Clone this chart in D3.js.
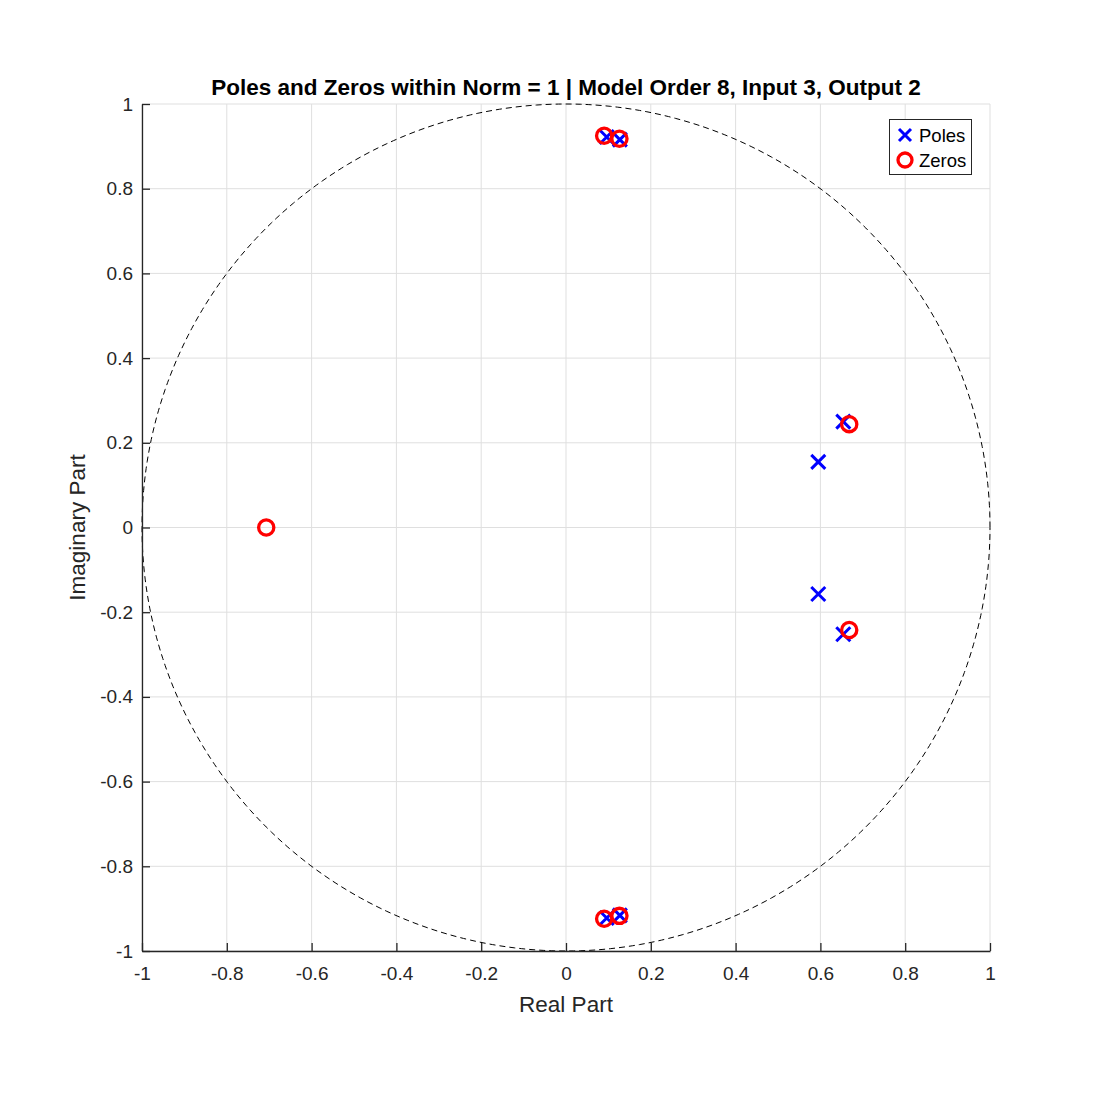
<!DOCTYPE html>
<html><head><meta charset="utf-8">
<script src="https://cdn.jsdelivr.net/npm/d3@7"></script>
<style>body{margin:0;background:#fff}svg{display:block}text{font-family:"Liberation Sans",Arial,sans-serif}</style>
</head><body>
<script>
const poleRe = [0.096, 0.096, 0.127, 0.127, 0.654, 0.654, 0.595, 0.595];
const poleIm = [0.922, -0.922, 0.916, -0.916, 0.250, -0.252, 0.155, -0.157];
const zeroRe = [0.090, 0.090, 0.126, 0.126, 0.668, 0.668, -0.707];
const zeroIm = [0.925, -0.924, 0.918, -0.917, 0.244, -0.242, 0.0];
const tickVals = [-1, -0.8, -0.6, -0.4, -0.2, 0, 0.2, 0.4, 0.6, 0.8, 1];
const titleText = "Poles and Zeros within Norm = 1 | Model Order 8, Input 3, Output 2";
const legendLabels = ["Poles", "Zeros"];

const W = 1094, H = 1093;
const L = 142, R = 990, T = 104, B = 951;
const svg = d3.select("body").append("svg").attr("width", W).attr("height", H);
const x = d3.scaleLinear().domain([-1, 1]).range([L, R]);
const y = d3.scaleLinear().domain([-1, 1]).range([B, T]);
const fmt = v => v === 0 ? "0" : String(+v.toFixed(1));

// grid
const g = svg.append("g");
g.selectAll(".gx").data(tickVals).join("line")
  .attr("x1", d => x(d)).attr("x2", d => x(d)).attr("y1", T).attr("y2", B)
  .attr("stroke", "#dfdfdf").attr("stroke-width", 1);
g.selectAll(".gy").data(tickVals).join("line")
  .attr("y1", d => y(d)).attr("y2", d => y(d)).attr("x1", L).attr("x2", R)
  .attr("stroke", "#dfdfdf").attr("stroke-width", 1);

// unit circle
const circ = d3.range(0, 361).map(a => [Math.cos(a * Math.PI / 180), Math.sin(a * Math.PI / 180)]);
svg.append("path").datum(circ)
  .attr("d", d3.line().x(d => x(d[0])).y(d => y(d[1])))
  .attr("fill", "none").attr("stroke", "#000").attr("stroke-width", 1)
  .attr("stroke-dasharray", "6,4");

// axes
const xAxis = d3.axisBottom(x).tickValues(tickVals).tickFormat(fmt).tickSizeInner(-8).tickSizeOuter(0).tickPadding(14);
const yAxis = d3.axisLeft(y).tickValues(tickVals).tickFormat(fmt).tickSizeInner(-8).tickSizeOuter(0).tickPadding(14);
const ax = svg.append("g").attr("transform", `translate(0,${B})`).call(xAxis);
const ay = svg.append("g").attr("transform", `translate(${L},0)`).call(yAxis);
[ax, ay].forEach(a => {
  a.select(".domain").attr("stroke", "#262626").attr("stroke-width", 1.3);
  a.selectAll(".tick line").attr("stroke", "#262626").attr("stroke-width", 1.3);
  a.selectAll(".tick text").attr("fill", "#262626").style("font-size", "19px")
   .style("font-family", "'Liberation Sans',Arial,sans-serif");
});
ay.selectAll(".tick text").attr("x", -9);
ax.selectAll(".tick text").attr("y", 16);

// markers
const xPath = s => `M${-s},${-s}L${s},${s}M${-s},${s}L${s},${-s}`;
svg.append("g").selectAll("path").data(poleRe.map((r, i) => [r, poleIm[i]])).join("path")
  .attr("transform", d => `translate(${x(d[0])},${y(d[1])})`)
  .attr("d", xPath(7)).attr("stroke", "#0000ff").attr("stroke-width", 3).attr("fill", "none");
svg.append("g").selectAll("circle").data(zeroRe.map((r, i) => [r, zeroIm[i]])).join("circle")
  .attr("cx", d => x(d[0])).attr("cy", d => y(d[1])).attr("r", 7.6)
  .attr("stroke", "#ff0000").attr("stroke-width", 3.3).attr("fill", "none");

// title & labels
svg.append("text").attr("x", (L + R) / 2).attr("y", 95).attr("text-anchor", "middle")
  .style("font-weight", "bold").style("font-size", "22.5px").attr("fill", "#000").text(titleText);
svg.append("text").attr("x", (L + R) / 2).attr("y", 1012).attr("text-anchor", "middle")
  .style("font-size", "22.5px").attr("fill", "#262626").text("Real Part");
svg.append("text").attr("transform", `translate(85,${(T + B) / 2}) rotate(-90)`).attr("text-anchor", "middle")
  .style("font-size", "22.5px").attr("fill", "#262626").text("Imaginary Part");

// legend
const lg = svg.append("g");
lg.append("rect").attr("x", 889.5).attr("y", 119.5).attr("width", 82).attr("height", 55)
  .attr("fill", "#fff").attr("stroke", "#262626").attr("stroke-width", 1);
lg.append("path").attr("transform", "translate(905,135)").attr("d", xPath(6))
  .attr("stroke", "#0000ff").attr("stroke-width", 3).attr("fill", "none");
lg.append("circle").attr("cx", 905).attr("cy", 160).attr("r", 7)
  .attr("stroke", "#ff0000").attr("stroke-width", 3.3).attr("fill", "none");
lg.selectAll("text.l").data(legendLabels).join("text")
  .attr("x", 919).attr("y", (d, i) => 142 + i * 25).style("font-size", "18.5px").attr("fill", "#000").text(d => d);
</script>
</body></html>
